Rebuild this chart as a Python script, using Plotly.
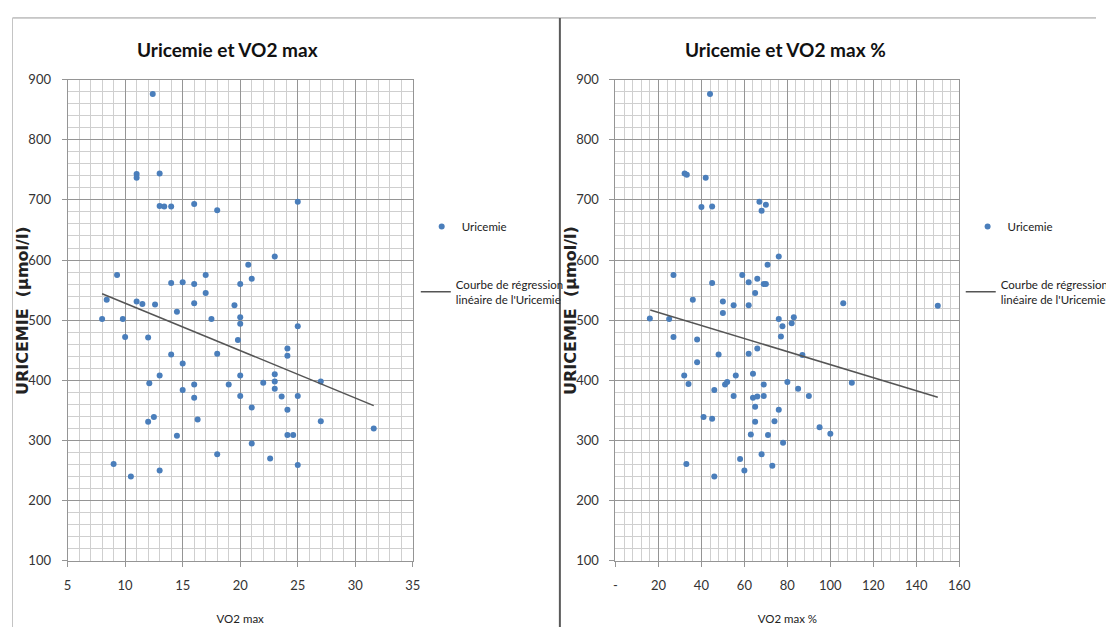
import plotly.graph_objects as go

# ---------------- data ----------------
vo2_max = [12.4, 11.0, 11.0, 13.0, 13.0, 13.4, 14.0, 16.0, 18.0, 25.0,
           23.0, 20.7, 21.0, 20.0, 17.0, 17.0, 16.0, 15.0, 14.0, 9.3,
           8.4, 11.0, 11.5, 12.6, 16.0, 19.5, 14.5, 8.0, 9.8, 17.5,
           20.0, 20.0, 25.0, 10.0, 12.0, 19.8, 18.0, 14.0, 15.0, 24.1,
           24.1, 23.0, 23.0, 23.0, 27.0, 20.0, 13.0, 12.1, 16.0, 19.0,
           22.0, 15.0, 16.0, 20.0, 23.6, 25.0, 21.0, 24.1, 16.3, 12.5,
           12.0, 27.0, 31.6, 14.5, 24.1, 24.6, 21.0, 18.0, 22.6, 9.0,
           13.0, 25.0, 10.5]
uric_left = [876, 743, 737, 744, 690, 689, 689, 693, 683, 697,
             606, 592, 569, 560, 575, 545, 560, 563, 562, 575,
             534, 531, 527, 526, 528, 525, 514, 502, 502, 502,
             505, 494, 490, 472, 471, 467, 444, 443, 428, 453,
             441, 410, 398, 386, 398, 408, 408, 395, 393, 393,
             396, 384, 371, 374, 373, 374, 355, 351, 335, 339,
             331, 332, 320, 308, 309, 309, 295, 277, 270, 261,
             250, 259, 240]

vo2_pct = [44, 32.2, 33.2, 42, 40, 45, 67, 70, 68, 76,
           70.8, 27, 59, 45, 62, 66, 69, 70, 65, 36,
           50, 55, 62, 106, 150, 50, 16, 25, 76, 83,
           82, 77.7, 77, 27, 38, 66, 62, 48, 87, 38,
           32, 56, 64, 34, 51, 52, 46, 69, 80, 85,
           110, 55, 64, 66, 69, 90, 65, 76, 41, 45,
           65, 74, 95, 63, 71, 100, 78, 58, 68, 73,
           33, 60, 46]
uric_right = [876, 744, 742, 737, 688, 689, 697, 692, 682, 606,
              592, 575, 575, 562, 563, 569, 560, 560, 545, 534,
              531, 525, 525, 528, 524, 512, 503, 502, 502, 505,
              495, 490, 473, 472, 468, 453, 444, 443, 442, 430,
              408, 408, 411, 394, 393, 397, 384, 393, 397, 386,
              396, 374, 371, 373, 374, 374, 356, 351, 339, 336,
              331, 332, 322, 310, 309, 311, 296, 269, 277, 258,
              261, 250, 240]

trend_left_x = [8.0, 31.6]
trend_left_y = [544, 358]
trend_right_x = [16.2, 150]
trend_right_y = [517, 372]

x1_ticks = [5, 10, 15, 20, 25, 30, 35]
x2_tickvals = [0, 20, 40, 60, 80, 100, 120, 140, 160]
x2_ticktext = ["-", "20", "40", "60", "80", "100", "120", "140", "160"]
y_ticks = [100, 200, 300, 400, 500, 600, 700, 800, 900]

series_name = "Uricemie"
trend_name = "Courbe de régression<br>linéaire de l'Uricemie"
title_left = "Uricemie et VO2 max"
title_right = "Uricemie et VO2 max %"
y_title = "URICEMIE  (µmol/l)"

# ---------------- layout helpers ----------------
PAGE_W, PAGE_H = 1114, 635
OFF = 8                       # default body margin of the html page
W, H = PAGE_W - OFF, PAGE_H - OFF


def px(x):
    """page pixel x -> paper fraction"""
    return (x - OFF) / W


def py(y):
    """page pixel y -> paper fraction"""
    return 1 - (y - OFF) / H


FONT = "Lato, Roboto, sans-serif"
BLUE = "#4a7ebb"
MAJOR = "#959595"
MINOR = "#cfcfcf"

fig = go.Figure()
fig.add_trace(go.Scatter(x=vo2_max, y=uric_left, mode="markers", name=series_name,
                         marker=dict(color=BLUE, size=6), xaxis="x", yaxis="y",
                         legend="legend"))
fig.add_trace(go.Scatter(x=trend_left_x, y=trend_left_y, mode="lines", name=trend_name,
                         line=dict(color="#555555", width=1.5), xaxis="x", yaxis="y",
                         legend="legend2"))
fig.add_trace(go.Scatter(x=vo2_pct, y=uric_right, mode="markers", name=series_name,
                         marker=dict(color=BLUE, size=6), xaxis="x2", yaxis="y2",
                         legend="legend3"))
fig.add_trace(go.Scatter(x=trend_right_x, y=trend_right_y, mode="lines", name=trend_name,
                         line=dict(color="#555555", width=1.5), xaxis="x2", yaxis="y2",
                         legend="legend4"))

tickfont = dict(family=FONT, size=13, color="#333333")
xtitlefont = dict(family=FONT, size=11.5, color="#222222")

common = dict(showgrid=True, gridcolor=MAJOR, gridwidth=1, zeroline=False,
              showline=True, linecolor=MAJOR, mirror=True, ticks="outside",
              ticklen=5, tickcolor=MAJOR, tickfont=tickfont, fixedrange=True,
              ticklabelstandoff=8)

y_dom = [py(567), py(73.3)]

fig.update_layout(
    width=W, height=H, margin=dict(l=0, r=0, t=0, b=0),
    paper_bgcolor="white", plot_bgcolor="white",
    xaxis=dict(common, domain=[px(64.7), px(417)], range=[5, 35], tickmode="array",
               tickvals=x1_ticks, anchor="y",
               minor=dict(tickmode="linear", tick0=5, dtick=1, showgrid=True,
                          gridcolor=MINOR, ticks=""),
               title=dict(text="VO2 max", font=xtitlefont, standoff=22)),
    yaxis=dict(common, domain=y_dom, range=[100, 900], tickmode="array",
               tickvals=y_ticks, anchor="x",
               minor=dict(tickmode="linear", tick0=100, dtick=20, showgrid=True,
                          gridcolor=MINOR, ticks="")),
    xaxis2=dict(common, domain=[px(623.7), px(974.5)], range=[0, 160], tickmode="array",
                tickvals=x2_tickvals, ticktext=x2_ticktext, anchor="y2",
                minor=dict(tickmode="linear", tick0=0, dtick=4, showgrid=True,
                           gridcolor=MINOR, ticks=""),
                title=dict(text="VO2 max %", font=xtitlefont, standoff=22)),
    yaxis2=dict(common, domain=y_dom, range=[100, 900], tickmode="array",
                tickvals=y_ticks, anchor="x2",
                minor=dict(tickmode="linear", tick0=100, dtick=20, showgrid=True,
                           gridcolor=MINOR, ticks="")),
    showlegend=True,
)

legfont = dict(family=FONT, size=11.5, color="#222222")
leg_common = dict(bgcolor="rgba(0,0,0,0)", borderwidth=0, font=legfont,
                  xanchor="left", yanchor="middle", itemwidth=30)
fig.update_layout(
    legend=dict(leg_common, x=px(426), y=py(224)),
    legend2=dict(leg_common, x=px(420), y=py(291)),
    legend3=dict(leg_common, x=px(983), y=py(224)),
    legend4=dict(leg_common, x=px(976), y=py(291)),
)

titlefont = dict(family=FONT, size=19, color="#111111")
ytfont = dict(family="DejaVu Sans, Verdana, sans-serif", size=16, color="#222222")
fig.update_layout(annotations=[
    dict(text="<b>" + title_left + "</b>", x=px(228), y=py(42), xref="paper", yref="paper",
         showarrow=False, font=titlefont, xanchor="center", yanchor="middle"),
    dict(text="<b>" + title_right + "</b>", x=px(797), y=py(42), xref="paper", yref="paper",
         showarrow=False, font=titlefont, xanchor="center", yanchor="middle"),
    dict(text="<b>" + y_title + "</b>", x=px(19), y=py(310), xref="paper", yref="paper",
         showarrow=False, font=ytfont, textangle=-90, xanchor="center", yanchor="middle"),
    dict(text="<b>" + y_title + "</b>", x=px(578), y=py(310), xref="paper", yref="paper",
         showarrow=False, font=ytfont, textangle=-90, xanchor="center", yanchor="middle"),
])

left_x = 0.5 / W
fig.update_layout(shapes=[
    dict(type="line", xref="paper", yref="paper", x0=left_x, x1=1, y0=py(10), y1=py(10),
         line=dict(color="#9a9a9a", width=1)),
    dict(type="line", xref="paper", yref="paper", x0=left_x, x1=left_x, y0=py(10), y1=0,
         line=dict(color="#c4c4c4", width=1)),
    dict(type="line", xref="paper", yref="paper", x0=px(567), x1=px(567), y0=py(10), y1=0,
         line=dict(color="#5a5a5a", width=2)),
])

fig.write_html("out.html")
